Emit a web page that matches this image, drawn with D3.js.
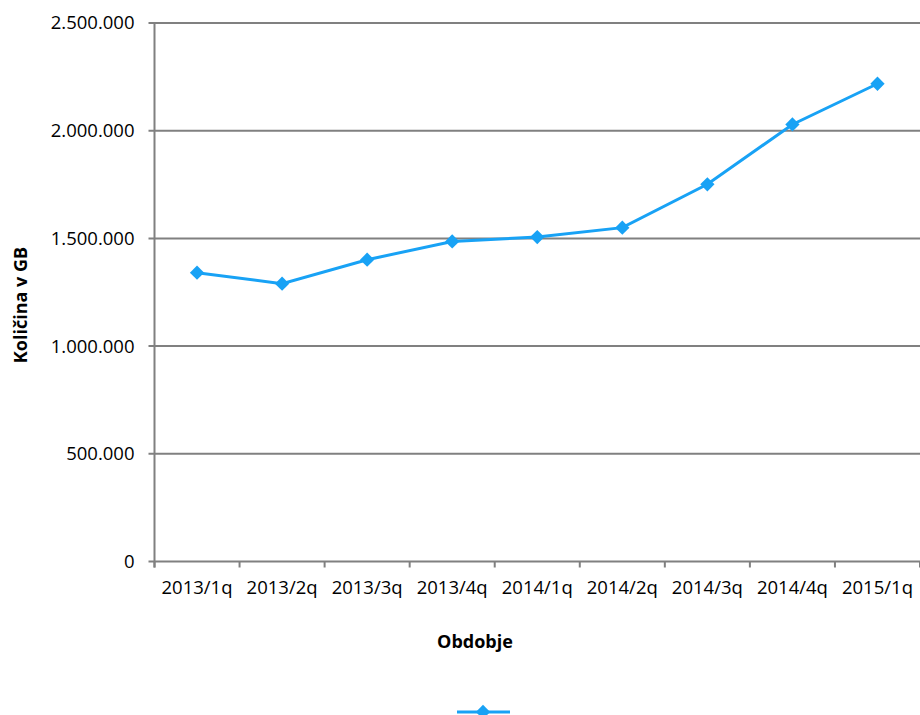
<!DOCTYPE html>
<html><head><meta charset="utf-8">
<script src="https://cdn.jsdelivr.net/npm/d3@7"></script>
<style>body{margin:0;background:#fff}svg{display:block}</style>
</head><body>
<svg id="c" width="920" height="715"></svg>
<script>
const categories = ["2013/1q","2013/2q","2013/3q","2013/4q","2014/1q","2014/2q","2014/3q","2014/4q","2015/1q"];
const values = [1341000,1290000,1401000,1486000,1506000,1550000,1751000,2029000,2218000];
const yTicks = [0,500000,1000000,1500000,2000000,2500000];
const yTitle = "Količina v GB";
const xTitle = "Obdobje";

const svg = d3.select("#c");
const L = 154.5, R = 920, T = 23, B = 561.5;
const grey = "#808080", blue = "#18a2f5";
const font = "'Open Sans', sans-serif";

const x = d3.scaleBand().domain(categories).range([L, R]);
const y = d3.scaleLinear().domain([0, 2500000]).range([B, T]);
const fmt = v => d3.format(",")(v).replace(/,/g, ".");

// gridlines
svg.append("g").selectAll("line").data(yTicks).join("line")
  .attr("x1", L - 6).attr("x2", R).attr("y1", d => y(d)).attr("y2", d => y(d))
  .attr("stroke", grey).attr("stroke-width", 2);

// y axis line
svg.append("line").attr("x1", L).attr("x2", L).attr("y1", T).attr("y2", B + 6)
  .attr("stroke", grey).attr("stroke-width", 2);

// y labels
svg.append("g").selectAll("text").data(yTicks).join("text")
  .attr("x", 134.5).attr("y", d => y(d)).attr("dy", "0.35em")
  .attr("text-anchor", "end").attr("font-family", font).attr("font-size", 18.5)
  .attr("fill", "#000").text(fmt);

// x ticks at band boundaries
const bounds = categories.map(c => x(c)).concat([x(categories[categories.length-1]) + x.bandwidth()]);
svg.append("g").selectAll("line").data(bounds).join("line")
  .attr("x1", d => d).attr("x2", d => d).attr("y1", B).attr("y2", B + 6)
  .attr("stroke", grey).attr("stroke-width", 2);

// x labels
svg.append("g").selectAll("text").data(categories).join("text")
  .attr("x", d => x(d) + x.bandwidth() / 2).attr("y", 594)
  .attr("text-anchor", "middle").attr("font-family", font).attr("font-size", 18.5)
  .attr("fill", "#000").text(d => d);

// titles
svg.append("text").attr("x", 475).attr("y", 648).attr("text-anchor", "middle")
  .attr("font-family", font).attr("font-size", 18).attr("font-weight", "bold").text(xTitle);
svg.append("text").attr("transform", "translate(27,305) rotate(-90)").attr("text-anchor", "middle")
  .attr("font-family", font).attr("font-size", 18).attr("font-weight", "bold").text(yTitle);

// line
const cx = (d, i) => x(categories[i]) + x.bandwidth() / 2;
const line = d3.line().x((d, i) => cx(d, i)).y(d => y(d));
svg.append("path").datum(values).attr("d", line).attr("fill", "none")
  .attr("stroke", blue).attr("stroke-width", 3);

const diamond = d3.symbol().type(d3.symbolDiamond2).size(130);
svg.append("g").selectAll("path").data(values).join("path")
  .attr("transform", (d, i) => `translate(${cx(d, i)},${y(d)})`)
  .attr("d", diamond).attr("fill", blue);

// legend
svg.append("line").attr("x1", 457).attr("x2", 510).attr("y1", 712).attr("y2", 712)
  .attr("stroke", blue).attr("stroke-width", 3);
svg.append("path").attr("transform", "translate(483,712)").attr("d", diamond).attr("fill", blue);
</script>
</body></html>
